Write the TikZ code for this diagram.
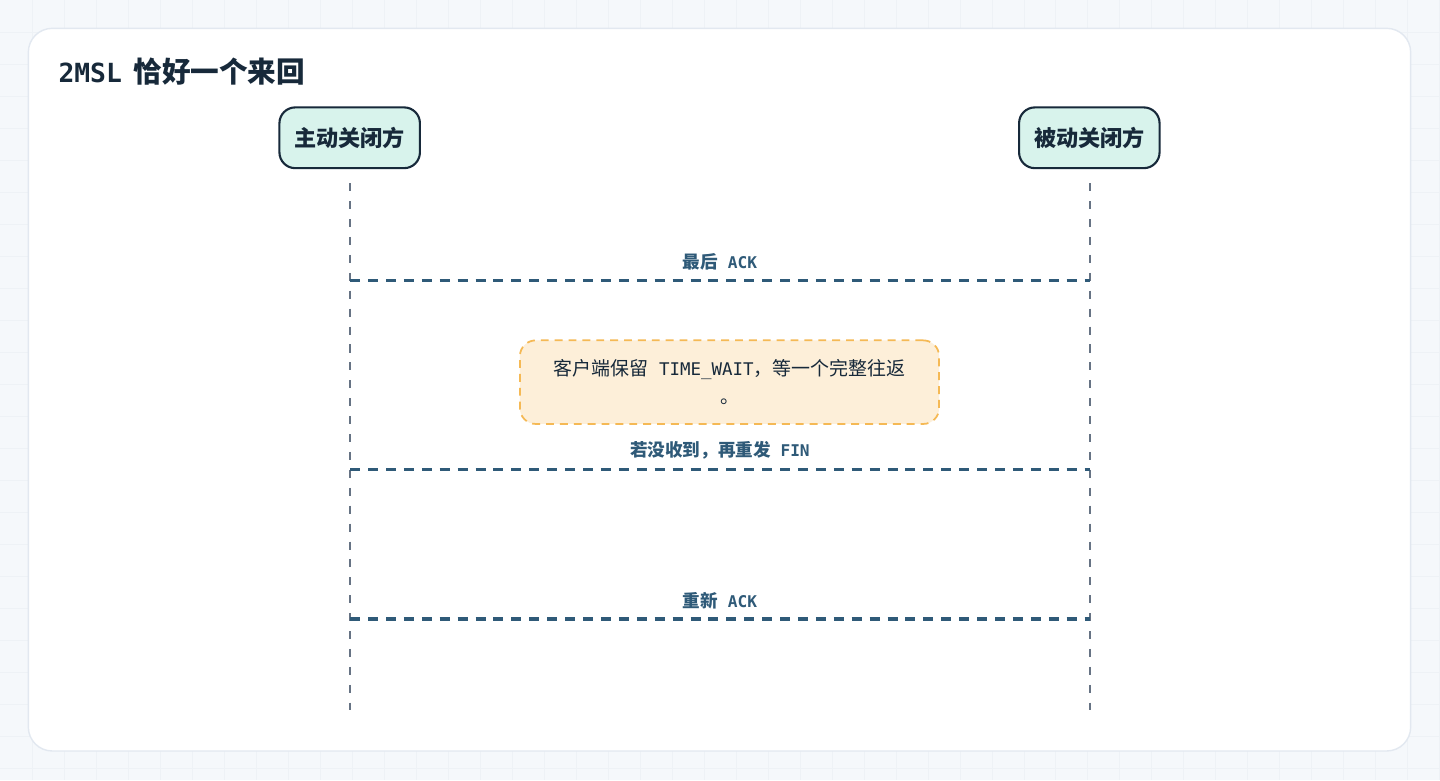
\documentclass[tikz,border=0pt]{standalone}
\usepackage{fontspec}
\setmainfont{Noto Sans CJK SC}
\newfontfamily\en[Scale=0.92]{DejaVu Sans Mono}
\usetikzlibrary{positioning}
\definecolor{pagebg}{HTML}{F5F8FB}
\definecolor{gridc}{HTML}{EEF2F6}
\definecolor{cardline}{HTML}{E2E8F0}
\definecolor{ink}{HTML}{17293A}
\definecolor{mint}{HTML}{D8F3EC}
\definecolor{lifec}{HTML}{667384}
\definecolor{msgc}{HTML}{2F5A78}
\definecolor{notebg}{HTML}{FDEFD9}
\definecolor{notec}{HTML}{F5B955}

\begin{document}
\begin{tikzpicture}[x=0.02cm,y=-0.02cm,
	actor/.style={draw=ink,line width=1.2pt,fill=mint,rounded corners=9pt,
		minimum width=80pt,minimum height=34.6pt,text=ink,font=\fontsize{12.6}{14}\selectfont\bfseries},
	life/.style={lifec,line width=1.2pt,dash pattern=on 4.6pt off 5.6pt},
	msg/.style={msgc,line width=1.8pt,dash pattern=on 5.7pt off 4.5pt},
	msglabel/.style={text=msgc,font=\fontsize{10}{12}\selectfont\bfseries,above=1.5pt},
	notebox/.style={draw=notec,line width=1pt,dash pattern=on 4.5pt off 3.4pt,fill=notebg,
		rounded corners=9pt,minimum width=238.7pt,minimum height=47.6pt,align=center,
		text=ink,font=\fontsize{10.8}{16}\selectfont}]
	% background and card
	\fill[pagebg] (0,0) rectangle (1440,780);
	\foreach \x in {32,64,...,1440}{
		\draw[gridc,line width=0.4pt] (\x,0) -- (\x,780);}
	\foreach \y in {32,64,...,780}{
		\draw[gridc,line width=0.4pt] (0,\y) -- (1440,\y);}
	\draw[cardline,fill=white,line width=0.8pt,rounded corners=13.6pt] (28,28) rectangle (1411,751);
	
	\node[anchor=west,text=ink,font=\fontsize{16.3}{19}\selectfont\bfseries] (title) at (52,71)
		{{\en 2MSL}\hspace{0.4em}恰好一个来回};
	
	% actors
	\node[actor] (client) at (349.5,137.5) {主动关闭方};
	\node[actor] (server) at (1089.5,137.5) {被动关闭方};
	
	\coordinate (c0) at (350,183);
	\coordinate (c1) at (350,710);
	\coordinate (s0) at (1090,183);
	\coordinate (s1) at (1090,710);
	\draw[life] (c0) -- (c1);
	\draw[life] (s0) -- (s1);
	
	% messages
	\coordinate (ca) at (350,280);
	\coordinate (sa) at (1090,280);
	\coordinate (cb) at (350,469);
	\coordinate (sb) at (1090,469);
	\coordinate (cc) at (350,619);
	\coordinate (sc) at (1090,619);
	
	\draw[msg] (ca) -- (sa) node[midway,msglabel] {最后{\en\ ACK}};
	\draw[msg] (cb) -- (sb) node[midway,msglabel] {若没收到，再重发{\en\ FIN}};
	\draw[msg] (cc) -- (sc) node[midway,msglabel] {重新{\en\ ACK}};
	
	\node[notebox] (wait) at (729.5,382) {客户端保留{\en\ TIME\_WAIT}，等一个完整往返\\。};
\end{tikzpicture}
\end{document}
